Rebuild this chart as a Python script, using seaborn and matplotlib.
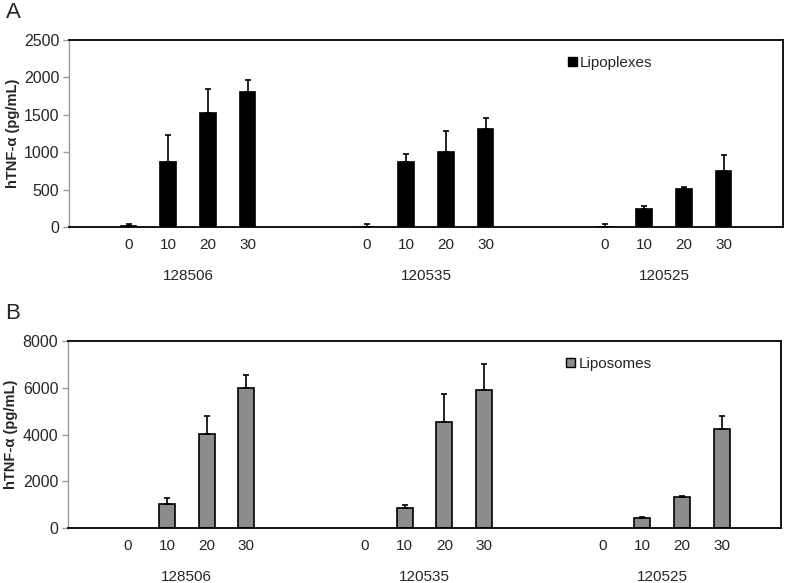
import matplotlib
matplotlib.use('Agg')
import matplotlib.pyplot as plt
import matplotlib.patches as mpatches
import matplotlib.transforms as mtransforms
import numpy as np
import pandas as pd
import seaborn as sns

strains = ['128506', '120535', '120525']
doses = ['0', '10', '20', '30']

lipoplex_mean = [[10, 865, 1528, 1800],
                 [5, 865, 1003, 1306],
                 [5, 236, 512, 744]]
lipoplex_err = [[30, 370, 317, 165],
                [35, 115, 285, 150],
                [40, 50, 27, 219]]

liposome_mean = [[0, 1014, 4010, 6000],
                 [0, 842, 4535, 5910],
                 [0, 415, 1343, 4222]]
liposome_err = [[0, 270, 800, 550],
                [0, 160, 1200, 1090],
                [0, 40, 40, 590]]

sns.set_theme(style='white')
plt.rcParams['font.family'] = ['Liberation Sans', 'DejaVu Sans']

# excel-like category axis: blank slots between strains
slots = ['pad0']
for s in strains:
    slots += [f'{s}_{d}' for d in doses]
    if s != strains[-1]:
        slots += [f'gap_{s}_a', f'gap_{s}_b']
slots += ['pad1']


def make_df(means, errs):
    rows = []
    for i, s in enumerate(strains):
        for j, d in enumerate(doses):
            rows.append({'slot': f'{s}_{d}', 'strain': s, 'dose': d,
                         'value': means[i][j], 'err': errs[i][j]})
    return pd.DataFrame(rows)


def draw_panel(ax, df, color, label, ymax, ystep, panel):
    # zero bars are not drawn at all in the original
    bars = df[df['value'] > 0]
    sns.barplot(data=bars, x='slot', y='value', order=slots, color=color,
                width=0.4, errorbar=None, edgecolor='black', linewidth=1.2,
                saturation=1, ax=ax)
    errs = df[df['err'] > 0]
    xpos = [slots.index(sl) for sl in errs['slot']]
    ax.errorbar(xpos, errs['value'], yerr=[np.zeros(len(errs)), errs['err']],
                fmt='none', ecolor='black', elinewidth=1.2, capsize=2.5,
                capthick=1.2)

    ax.set_xlim(-0.5, len(slots) - 0.5)
    ax.set_ylim(0, ymax)
    ax.set_yticks(np.arange(0, ymax + 1, ystep))
    ax.set_xticks(range(len(slots)))
    ax.set_xticklabels([sl.split('_')[1] if sl.split('_')[0] in strains else ''
                        for sl in slots], fontsize=11)
    ax.tick_params(axis='x', length=0, pad=8)
    ax.tick_params(axis='y', length=4, width=1, color='#999999', direction='out',
                   labelsize=11.5, pad=3, left=True)
    ax.set_xlabel('')
    ax.set_ylabel('hTNF-α (pg/mL)', fontsize=10.5, fontweight='bold', labelpad=3)

    for side in ['top', 'right', 'bottom']:
        ax.spines[side].set_color('black')
        ax.spines[side].set_linewidth(1.3)
    ax.spines['left'].set_color('#999999')
    ax.spines['left'].set_linewidth(1.0)

    trans = mtransforms.blended_transform_factory(ax.transData, ax.transAxes)
    for s in strains:
        centre = np.mean([slots.index(f'{s}_{d}') for d in doses])
        ax.text(centre, -0.262, s, transform=trans, ha='center', va='center',
                fontsize=11)

    handle = mpatches.Patch(facecolor=color, edgecolor='black', linewidth=1)
    ax.legend([handle], [label], loc='center left', bbox_to_anchor=(0.69, 0.877),
              frameon=False, fontsize=11, handlelength=0.6, handleheight=0.6,
              handletextpad=0.2, borderaxespad=0)

    ax.text(-0.088, 1.145, panel, transform=ax.transAxes, fontsize=16,
            ha='left', va='center')


fig = plt.figure(figsize=(7.86, 5.83), dpi=100)
ax_a = fig.add_axes([0.0878, 0.6106, 0.9084, 0.3208])
ax_b = fig.add_axes([0.0865, 0.0943, 0.9072, 0.3208])

draw_panel(ax_a, make_df(lipoplex_mean, lipoplex_err), 'black', 'Lipoplexes',
           2500, 500, 'A')
draw_panel(ax_b, make_df(liposome_mean, liposome_err), '#8c8c8c', 'Liposomes',
           8000, 2000, 'B')

fig.savefig('out.png', dpi=100, facecolor='white')
